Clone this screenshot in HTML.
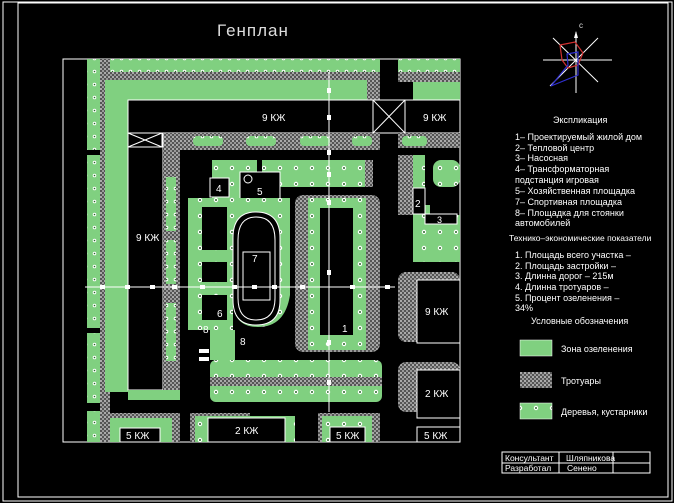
<!DOCTYPE html>
<html><head><meta charset="utf-8"><style>
html,body{margin:0;padding:0;background:#000;}
svg{display:block;}
text{font-family:"Liberation Sans",sans-serif;}
</style></head><body>
<svg width="674" height="503" viewBox="0 0 674 503" xmlns="http://www.w3.org/2000/svg">
<defs>
<pattern id="gr" width="4" height="4" patternUnits="userSpaceOnUse">
<rect width="4" height="4" fill="#555"/><rect width="2" height="2" fill="#aaa"/><rect x="2" y="2" width="2" height="2" fill="#999"/>
</pattern>
<pattern id="tr" width="16" height="16" patternUnits="userSpaceOnUse">
<rect width="16" height="16" fill="#80d080"/><circle cx="8" cy="8" r="2.2" fill="#fff"/><circle cx="8" cy="8" r="1" fill="#2a6a2a"/>
</pattern>
<pattern id="trh" width="9" height="13" patternUnits="userSpaceOnUse">
<rect width="9" height="13" fill="#80d080"/><circle cx="4.5" cy="6.5" r="1.8" fill="#fff"/><circle cx="4.5" cy="6.5" r="0.8" fill="#2a6a2a"/>
</pattern>
</defs>
<!-- frames -->
<rect x="3" y="2" width="669" height="499" fill="none" stroke="#fff" stroke-width="1"/>
<rect x="18" y="3" width="650" height="494" fill="none" stroke="#fff" stroke-width="1"/>
<text x="217" y="36" fill="#ddd" font-size="17" letter-spacing="1">Генплан</text>

<!-- site plan -->
<g>
<rect x="63" y="59" width="397" height="383" fill="#000" stroke="#fff"/>
<!-- left tree strip -->
<rect x="87" y="59" width="13" height="383" fill="url(#trh)"/>
<rect x="87" y="150" width="13" height="5" fill="#000"/>
<rect x="87" y="328" width="13" height="5" fill="#000"/>
<rect x="87" y="403" width="13" height="8" fill="#000"/>
<rect x="100" y="59" width="10" height="383" fill="url(#gr)"/>
<!-- top tree strip -->
<rect x="110" y="59" width="270" height="13" fill="url(#trh)"/>
<rect x="398" y="59" width="62" height="13" fill="url(#trh)"/>
<rect x="110" y="72" width="270" height="8" fill="url(#gr)"/>
<rect x="398" y="72" width="62" height="10" fill="url(#gr)"/>
<!-- big L green -->
<path d="M105 80 H367 Q372 80 372 88 V100 H128 V392 H105 Z" fill="#80d080"/>
<rect x="367" y="80" width="13" height="20" fill="url(#gr)"/>
<rect x="413" y="82" width="47" height="18" fill="#80d080"/>
<!-- top building -->
<rect x="128" y="100" width="332" height="33" fill="#000" stroke="#fff"/>
<rect x="373" y="100" width="32" height="33" fill="#000" stroke="#fff"/>
<line x1="373" y1="100" x2="405" y2="133" stroke="#fff"/><line x1="405" y1="100" x2="373" y2="133" stroke="#fff"/>
<text x="262" y="121" fill="#fff" font-size="10">9  КЖ</text>
<text x="423" y="121" fill="#fff" font-size="10">9  КЖ</text>
<!-- under top building -->
<rect x="128" y="133" width="252" height="17" fill="url(#gr)"/>
<rect x="398" y="133" width="62" height="15" fill="url(#gr)"/>
<rect x="193" y="136" width="30" height="10" rx="4" fill="url(#trh)"/>
<rect x="246" y="136" width="30" height="10" rx="4" fill="url(#trh)"/>
<rect x="300" y="136" width="30" height="10" rx="4" fill="url(#trh)"/>
<rect x="352" y="136" width="20" height="10" rx="4" fill="url(#trh)"/>
<rect x="402" y="136" width="25" height="10" rx="4" fill="url(#trh)"/>
<!-- left building -->
<rect x="128" y="133" width="35" height="257" fill="#000" stroke="#fff"/>
<rect x="128" y="133" width="34" height="14" fill="#000" stroke="#fff"/>
<line x1="128" y1="133" x2="162" y2="147" stroke="#fff"/><line x1="162" y1="133" x2="128" y2="147" stroke="#fff"/>
<text x="136" y="241" fill="#fff" font-size="10">9 КЖ</text>
<rect x="163" y="147" width="17" height="253" fill="url(#gr)"/>
<rect x="166" y="177" width="10" height="54" fill="url(#trh)"/>
<rect x="166" y="240" width="10" height="44" fill="url(#trh)"/>
<rect x="166" y="303" width="10" height="58" fill="url(#trh)"/>
<rect x="128" y="390" width="52" height="10" fill="#80d080"/>

<!-- central -->
<path d="M212 160 H257 V172 H262 V160 H372 V187 H278 Q270 187 270 195 V202 H212 Z" fill="url(#tr)"/>
<rect x="365" y="160" width="8" height="27" fill="url(#gr)"/>
<rect x="240" y="172" width="40" height="30" fill="#000" stroke="#fff"/>
<text x="257" y="195" fill="#fff" font-size="10">5</text>
<circle cx="248" cy="179" r="4" fill="none" stroke="#fff"/>
<rect x="210" y="178" width="19" height="19" fill="#000" stroke="#fff"/>
<text x="216" y="192" fill="#fff" font-size="10">4</text>
<path d="M188 198 H290 V295 Q285 327 258 327 Q233 327 233 300 V330 H188 Z" fill="url(#tr)"/>
<rect x="202" y="207" width="25" height="43" fill="#000"/>
<rect x="202" y="262" width="25" height="20" fill="#000"/>
<rect x="202" y="295" width="25" height="25" fill="#000"/>
<text x="217" y="317" fill="#fff" font-size="10">6</text>
<path d="M233 238 Q233 212 256 212 Q280 212 280 238 V300 Q280 325 256 325 Q233 325 233 300 Z" fill="#000" stroke="#fff"/>
<path d="M238 240 Q238 217 256 217 Q275 217 275 240 V298 Q275 320 256 320 Q238 320 238 298 Z" fill="none" stroke="#fff"/>
<rect x="243" y="252" width="27" height="48" fill="none" stroke="#fff"/>
<text x="252" y="262" fill="#fff" font-size="10">7</text>
<rect x="210" y="330" width="25" height="30" fill="#80d080"/>
<rect x="210" y="360" width="172" height="42" rx="6" fill="url(#tr)"/>
<rect x="210" y="377" width="172" height="9" fill="url(#gr)"/>
<text x="240" y="345" fill="#fff" font-size="10">8</text>
<text x="203" y="333" fill="#fff" font-size="10">8</text>
<rect x="199" y="349" width="10" height="4" fill="#fff"/><rect x="199" y="357" width="10" height="4" fill="#fff"/>
<!-- block 1 -->
<rect x="295" y="195" width="85" height="157" rx="8" fill="url(#gr)"/>
<rect x="308" y="198" width="58" height="152" fill="url(#tr)"/>
<rect x="320" y="208" width="33" height="127" fill="#000"/>
<text x="342" y="332" fill="#fff" font-size="10">1</text>
<!-- right column -->
<rect x="398" y="155" width="15" height="60" fill="url(#gr)"/>
<path d="M405 155 H425 V205 H430 V215 H460 V262 H413 V155 Z" fill="url(#tr)"/>
<rect x="433" y="160" width="27" height="27" rx="8" fill="url(#tr)"/>
<rect x="413" y="188" width="12" height="26" fill="#000" stroke="#fff"/>
<text x="415" y="207" fill="#fff" font-size="10">2</text>
<rect x="425" y="214" width="32" height="10" fill="#000" stroke="#fff"/>
<text x="437" y="223" fill="#fff" font-size="9">3</text>
<rect x="398" y="272" width="62" height="70" rx="8" fill="url(#gr)"/>
<rect x="417" y="280" width="43" height="63" fill="#000" stroke="#fff"/>
<text x="425" y="315" fill="#fff" font-size="10">9 КЖ</text>
<rect x="398" y="362" width="62" height="50" rx="8" fill="url(#gr)"/>
<rect x="417" y="370" width="43" height="48" fill="#000" stroke="#fff"/>
<text x="425" y="397" fill="#fff" font-size="10">2 КЖ</text>
<!-- bottom row -->
<rect x="105" y="413" width="75" height="29" fill="url(#gr)"/>
<rect x="110" y="418" width="62" height="24" fill="#80d080"/>
<rect x="120" y="428" width="40" height="14" fill="#000" stroke="#fff"/>
<text x="126" y="439" fill="#fff" font-size="10">5 КЖ</text>
<rect x="190" y="413" width="60" height="29" fill="url(#gr)"/>
<rect x="195" y="416" width="100" height="26" fill="url(#tr)"/>
<rect x="208" y="418" width="77" height="24" fill="#000" stroke="#fff"/>
<text x="235" y="434" fill="#fff" font-size="10">2 КЖ</text>
<rect x="318" y="413" width="62" height="29" fill="url(#gr)"/>
<rect x="322" y="416" width="50" height="26" fill="url(#tr)"/>
<rect x="330" y="427" width="35" height="15" fill="#000" stroke="#fff"/>
<text x="336" y="439" fill="#fff" font-size="10">5 КЖ</text>
<rect x="417" y="427" width="43" height="15" fill="#000" stroke="#fff"/>
<text x="424" y="439" fill="#fff" font-size="10">5 КЖ</text>
<!-- axes -->
<line x1="85" y1="287" x2="395" y2="287" stroke="#fff"/>
<line x1="329" y1="72" x2="329" y2="412" stroke="#fff"/>
<g fill="#fff">
<rect x="100" y="285" width="5" height="4"/><rect x="125" y="285" width="5" height="4"/><rect x="150" y="285" width="5" height="4"/><rect x="172" y="285" width="5" height="4"/><rect x="200" y="285" width="5" height="4"/><rect x="232" y="285" width="5" height="4"/><rect x="252" y="285" width="5" height="4"/><rect x="272" y="285" width="5" height="4"/><rect x="300" y="285" width="5" height="4"/><rect x="350" y="285" width="5" height="4"/><rect x="385" y="285" width="5" height="4"/>
<rect x="327" y="88" width="4" height="5"/><rect x="327" y="115" width="4" height="5"/><rect x="327" y="150" width="4" height="5"/><rect x="327" y="172" width="4" height="5"/><rect x="327" y="200" width="4" height="5"/><rect x="327" y="270" width="4" height="5"/><rect x="327" y="340" width="4" height="5"/><rect x="327" y="380" width="4" height="5"/>
</g>
</g>

<!-- compass -->
<g stroke="#fff" stroke-width="1">
<line x1="543" y1="60" x2="612" y2="60"/><line x1="576" y1="32" x2="576" y2="93"/>
<line x1="553" y1="38" x2="598" y2="82"/><line x1="598" y1="38" x2="550" y2="86"/>
</g>
<polygon points="576,31 574,38 578,38" fill="#fff"/>
<text x="579" y="28" fill="#ddd" font-size="8">c</text>
<polygon points="560,45 575,42 583,53 578,65 568,68 562,60" fill="none" stroke="#d03030" stroke-width="1.2"/>
<polygon points="567,54 578,52 578,75 551,86 568,65" fill="none" stroke="#3030d0" stroke-width="1.2"/>

<!-- legend -->
<g fill="#fff" font-size="9">
<text x="553" y="123">Экспликация</text>
<text x="515" y="140">1– Проектируемый жилой дом</text>
<text x="515" y="151">2– Тепловой центр</text>
<text x="515" y="161">3– Насосная</text>
<text x="515" y="172">4– Трансформаторная</text>
<text x="515" y="183">подстанция игровая</text>
<text x="515" y="194">5– Хозяйственная площадка</text>
<text x="515" y="205">7– Спортивная площадка</text>
<text x="515" y="216">8– Площадка для стоянки</text>
<text x="515" y="226">автомобилей</text>
<text x="509" y="241" font-size="8.5">Технико–экономические показатели</text>
<text x="515" y="258">1. Площадь всего участка – </text>
<text x="515" y="269">2. Площадь застройки –</text>
<text x="515" y="279">3. Длинна дорог – 215м</text>
<text x="515" y="290">4. Длинна тротуаров –</text>
<text x="515" y="301">5. Процент озеленения –</text>
<text x="515" y="311">34%</text>
<text x="531" y="324">Условные обозначения</text>
<text x="561" y="352">Зона озеленения</text>
<text x="561" y="384">Тротуары</text>
<text x="561" y="415">Деревья, кустарники</text>
</g>
<rect x="520" y="340" width="32" height="16" fill="#80d080" stroke="#fff" stroke-width="0.5"/>
<rect x="520" y="372" width="32" height="16" fill="url(#gr)"/>
<rect x="520" y="403" width="32" height="16" fill="url(#tr)" stroke="#fff" stroke-width="0.5"/>

<!-- title block -->
<g stroke="#fff" fill="none">
<rect x="502" y="452" width="148" height="21"/>
<line x1="502" y1="463" x2="650" y2="463"/>
<line x1="559" y1="452" x2="559" y2="473"/>
<line x1="613" y1="452" x2="613" y2="473"/>
</g>
<g fill="#fff" font-size="8.5">
<text x="505" y="461">Консультант</text><text x="566" y="461">Шляпникова</text>
<text x="505" y="471">Разработал</text><text x="567" y="471">Сенено</text>
</g>
</svg>
</body></html>
